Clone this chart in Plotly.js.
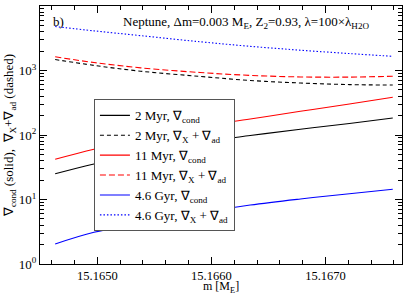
<!DOCTYPE html>
<html>
<head>
<meta charset="utf-8">
<script src="https://cdn.plot.ly/plotly-3.0.1.min.js"></script>
<style>html,body{margin:0;padding:0;background:#fff;}#chart{width:407px;height:295px;}</style>
</head>
<body>
<div id="chart"></div>
<script>
// mass coordinate [M_E]
var mass = [15.16463, 15.16497, 15.16538, 15.16590, 15.16634, 15.16678, 15.16721, 15.16759];
// 2 Myr
var cond2Myr = [25, 35.5, 50, 76, 98, 123, 151, 183];
var xad2Myr  = [1480, 1200, 975, 810, 700, 640, 605, 595];
// 11 Myr
var cond11Myr = [42, 60, 88, 135, 177, 233, 302, 384];
var xad11Myr  = [1630, 1330, 1100, 930, 840, 795, 790, 815];
// 4.6 Gyr
var cond46Gyr = [2.04, 3.1, 4.2, 6.2, 8.2, 10.2, 12.3, 14.4];
var xad46Gyr  = [4800, 4120, 3470, 2790, 2370, 2065, 1830, 1660];

var names = [
  "2 Myr, \u2207<sub>cond</sub>",
  "2 Myr, \u2207<sub>X</sub> + \u2207<sub>ad</sub>",
  "11 Myr, \u2207<sub>cond</sub>",
  "11 Myr, \u2207<sub>X</sub> + \u2207<sub>ad</sub>",
  "4.6 Gyr, \u2207<sub>cond</sub>",
  "4.6 Gyr, \u2207<sub>X</sub> + \u2207<sub>ad</sub>"
];
var yTickVals = [1, 10, 100, 1000, 10000];
var yTickText = ["10<sup>0</sup>", "10<sup>1</sup>", "10<sup>2</sup>", "10<sup>3</sup>", "10<sup>4</sup>"];
var yMinor = [];
[1, 10, 100, 1000].forEach(function (d) { for (var k = 2; k <= 9; k++) yMinor.push(k * d); });
var xTickVals = [15.1650, 15.1660, 15.1670];
var xTickText = ["15.1650", "15.1660", "15.1670"];

var series = [cond2Myr, xad2Myr, cond11Myr, xad11Myr, cond46Gyr, xad46Gyr];
var colors = ["#000000", "#000000", "#ff0000", "#ff0000", "#0000ff", "#0000ff"];
var dashes = ["solid", "4px,3px", "solid", "6px,3px", "solid", "1.5px,2px"];

var traces = series.map(function (s, i) {
  return {
    x: mass, y: s, type: "scatter", mode: "lines", name: names[i],
    line: {color: colors[i], width: 1.1, dash: dashes[i], shape: "spline"}
  };
});

var fnt = {family: "Liberation Serif, Times New Roman, serif", size: 13, color: "#000"};
var layout = {
  width: 407, height: 295,
  margin: {l: 40, r: 5, t: 6, b: 31},
  paper_bgcolor: "#fff", plot_bgcolor: "#fff",
  font: fnt,
  showlegend: true,
  legend: {
    x: 0.149, y: 0.638, xanchor: "left", yanchor: "top",
    bordercolor: "#555", borderwidth: 1, bgcolor: "#fff",
    font: {family: fnt.family, size: 13, color: "#000"},
    tracegroupgap: 0, itemwidth: 30
  },
  xaxis: {
    range: [15.164497, 15.167671],
    tickmode: "array", tickvals: xTickVals, ticktext: xTickText,
    ticks: "inside", ticklen: 7, tickcolor: "#000",
    showline: true, linecolor: "#000", linewidth: 1, mirror: "allticks",
    showgrid: false, zeroline: false,
    minor: {dtick: 0.0002, tick0: 15.1650, ticks: "inside", ticklen: 4, tickcolor: "#000", showgrid: false},
    tickfont: {family: fnt.family, size: 12.5, color: "#000"}
  },
  yaxis: {
    type: "log", range: [0, 4],
    tickmode: "array", tickvals: yTickVals, ticktext: yTickText,
    ticks: "inside", ticklen: 7, tickcolor: "#000",
    showline: true, linecolor: "#000", linewidth: 1, mirror: "allticks",
    showgrid: false, zeroline: false,
    minor: {tickmode: "array", tickvals: yMinor, ticks: "inside", ticklen: 4, tickcolor: "#000", showgrid: false},
    tickfont: fnt,
    title: {text: "\u2207<sub>cond</sub> (solid),  \u2207<sub>X</sub>+\u2207<sub>ad</sub> (dashed)", font: fnt, standoff: 2}
  },
  annotations: [
    {xref: "paper", yref: "paper", x: 0.03, y: 0.975, xanchor: "left", yanchor: "top",
     text: "b)", showarrow: false, font: fnt},
    {xref: "paper", yref: "paper", x: 0.57, y: 0.975, xanchor: "center", yanchor: "top",
     text: "Neptune, \u0394m=0.003 M<sub>E</sub>, Z<sub>2</sub>=0.93, \u03bb=100\u00d7\u03bb<sub>H2O</sub>",
     showarrow: false, font: fnt},
    {xref: "paper", yref: "paper", x: 0.5, y: -0.09, xanchor: "center", yanchor: "middle",
     text: "m [M<sub>E</sub>]", showarrow: false, borderpad: 0,
     font: {family: fnt.family, size: 12, color: "#000"}}
  ]
};

Plotly.newPlot("chart", traces, layout, {displayModeBar: false, staticPlot: true});
</script>
</body>
</html>
